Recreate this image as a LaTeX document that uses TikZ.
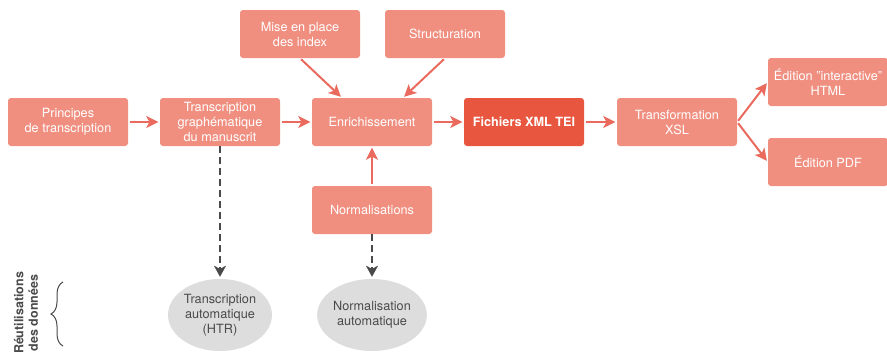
\documentclass[tikz,border=0pt]{standalone}
\usepackage{fontspec}
\setmainfont{TeX Gyre Heros}
\usetikzlibrary{arrows.meta,shapes.geometric,decorations.pathreplacing,calc}

\definecolor{zalm}{HTML}{F08F80}
\definecolor{rood}{HTML}{E8563F}
\definecolor{pijl}{HTML}{EA6A5E}
\definecolor{grijs}{HTML}{DDDDDD}
\definecolor{donker}{HTML}{4A4A4A}

\tikzset{
  blok/.style={rectangle, rounded corners=3pt, fill=zalm, text=white,
    minimum width=120pt, minimum height=48pt, inner sep=0pt, align=center,
    font=\fontsize{12.7}{15}\selectfont},
  blokdonker/.style={blok, fill=rood, font=\fontsize{12.7}{15}\selectfont\bfseries},
  ovaal/.style={ellipse, fill=grijs, text=donker, minimum width=104pt,
    minimum height=72pt, inner sep=0pt, align=center,
    font=\fontsize{12.7}{15}\selectfont},
  pijlrood/.style={draw=pijl, line width=2pt, shorten >=1.5pt, shorten <=1.5pt,
    -{Stealth[length=12pt,width=12pt,inset=3pt]}},
  pijlgrijs/.style={draw=donker, line width=2.5pt, dash pattern=on 7pt off 4pt,
    shorten >=2pt, -{Stealth[length=11pt,width=12pt,inset=3pt]}}
}

\begin{document}
\begin{tikzpicture}[x=1pt,y=-1pt]
    \useasboundingbox (0,0) rectangle (887,356);

    % Blokken
    \node[blok] (princ) at (68,122) {Principes\\de transcription};
    \node[blok] (trans) at (220,122) {Transcription\\graphématique\\du manuscrit};
    \node[blok] (enrich) at (372,122) {Enrichissement};
    \node[blok] (index) at (300,34) {Mise en place\\des index};
    \node[blok] (struct) at (445,34) {Structuration};
    \node[blokdonker] (xml) at (524,122) {Fichiers XML TEI};
    \node[blok] (xsl) at (677,122) {Transformation\\XSL};
    \node[blok] (html) at (828,82) {Édition "interactive"\\HTML};
    \node[blok] (pdf) at (828,162) {Édition PDF};
    \node[blok] (norm) at (372,210) {Normalisations};

    % Ovalen
    \node[ovaal] (htr) at (220,315) {Transcription\\automatique\\(HTR)};
    \node[ovaal] (normauto) at (372,315) {Normalisation\\automatique};

    % Pijlen
    \draw[pijlrood] (princ) -- (trans);
    \draw[pijlrood] (trans) -- (enrich);
    \draw[pijlrood] (enrich) -- (xml);
    \draw[pijlrood] (xml) -- (xsl);
    \draw[pijlrood] (index.south) -- ($(enrich.north)+(-30,0)$);
    \draw[pijlrood] (struct.south) -- ($(enrich.north)+(31,0)$);
    \draw[pijlrood] (norm) -- (enrich);
    \draw[pijlrood] (xsl.east) -- (html.west);
    \draw[pijlrood] (xsl.east) -- (pdf.west);

    % Gestippelde pijlen
    \draw[pijlgrijs] (trans) -- (htr);
    \draw[pijlgrijs] (norm) -- (normauto);

    % Accolade en label
    \coordinate (acconder) at (63,346);
    \coordinate (accboven) at (63,282);
    \draw[donker, line width=1pt, decorate, decoration={brace, amplitude=12pt}]
      (acconder) -- (accboven);
    \node[rotate=90, align=center, text=donker, inner sep=0pt,
      font=\fontsize{12.5}{14.5}\selectfont\bfseries] (reut) at (26,313)
      {Réutilisations\\des données};
  \end{tikzpicture}
\end{document}
